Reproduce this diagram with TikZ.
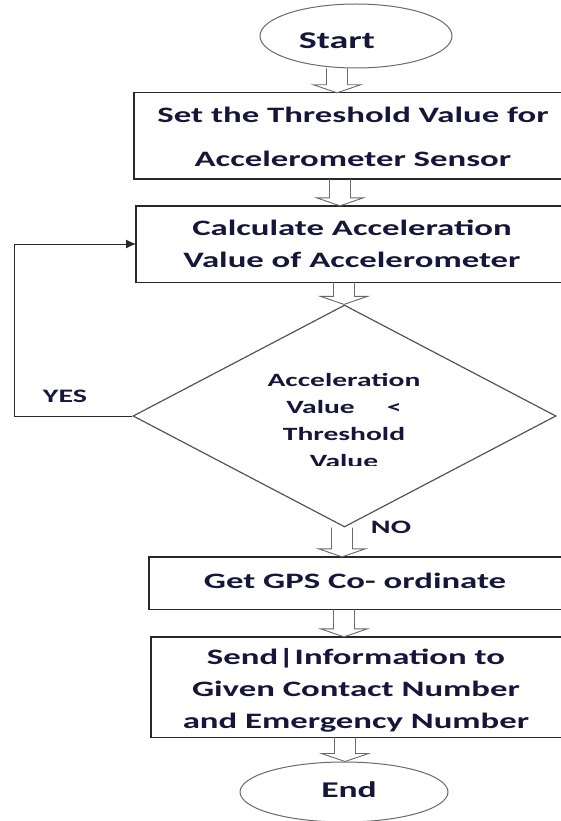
\documentclass[tikz,border=0pt]{standalone}
\usepackage{fontspec}
\usetikzlibrary{shapes.geometric,calc,arrows.meta}
\newfontfamily\flowfont{Carlito}[FakeStretch=1.58]
\definecolor{txtcol}{RGB}{22,22,58}
\definecolor{edgecol}{RGB}{40,40,40}
\definecolor{arrcol}{RGB}{105,105,105}
\begin{document}
\begin{tikzpicture}[x=1pt,y=-1pt,
  box/.style={inner sep=0pt, anchor=west},
  boxline/.style={draw=edgecol, line width=1.4pt, line join=miter},
  term/.style={draw=arrcol, line width=1pt, ellipse, inner sep=0pt},
  decision/.style={draw=arrcol!80!black, line width=1.2pt, diamond, inner sep=0pt},
  label text/.style={text=txtcol, align=center, inner sep=0pt,
    font=\flowfont\bfseries\fontsize{22}{32}\selectfont},
  hollow/.style={draw=arrcol, line width=0.9pt, line join=miter},
  loopline/.style={draw=edgecol, line width=1pt, -{Latex[length=10pt,width=9pt]}}]
\useasboundingbox (0,0) rectangle (560,821);

% open-ended process box: top, left and bottom sides only
\newcommand\openbox[1]{%
  \draw[boxline] (#1.north east) -- (#1.north west) -- (#1.south west) -- (#1.south east);}

% terminals, process boxes and the decision
\node[term, minimum width=192pt, minimum height=64pt] (start) at (356,36) {};
\node[label text, font=\flowfont\bfseries\fontsize{24}{32}\selectfont] at (337,41) {Start};

\node[box, minimum width=428pt, minimum height=86pt] (setT) at (134,136) {};
\openbox{setT}
\node[label text, font=\flowfont\bfseries\fontsize{22}{44}\selectfont] at (353,137)
  {Set the Threshold Value for\\Accelerometer Sensor};

\node[box, minimum width=426pt, minimum height=76pt] (calc) at (136,244) {};
\openbox{calc}
\node[label text] at (352,244) {Calculate Acceleration\\Value of Accelerometer};

\node[decision, minimum width=423pt, minimum height=222pt] (dec) at (344.5,416) {};
\begin{scope}
  \clip (0,0) rectangle (560,465);
  \node[label text, font=\flowfont\bfseries\fontsize{18.7}{27}\selectfont] at (344,420)
    {Acceleration\\Value\quad\ \ {<}\\Threshold\\Value};
\end{scope}

\node[box, minimum width=413pt, minimum height=52pt] (gps) at (149,583) {};
\openbox{gps}
\node[label text] at (355,581) {Get GPS Co- ordinate};

\node[box, minimum width=411pt, minimum height=100pt] (send) at (151,687) {};
\openbox{send}
\node[label text] at (356,690)
  {Send|Information to\\Given Contact Number\\and Emergency Number};

\node[term, minimum width=208pt, minimum height=60pt] (finish) at (344,792) {};
\node[label text, font=\flowfont\bfseries\fontsize{22.5}{32}\selectfont] at (349,790) {End};

% branch labels
\node[label text, font=\flowfont\bfseries\fontsize{19}{20}\selectfont] at (65,396) {YES};
\node[label text, font=\flowfont\bfseries\fontsize{19}{20}\selectfont] at (391,527) {NO};

% columns of the block arrows
\coordinate (c1) at (337,0);
\coordinate (c2) at (340,0);
\coordinate (c3) at (344,0);
\coordinate (c4) at (342,0);
\coordinate (c5) at (344,0);
\coordinate (c6) at (345,0);

% hollow block arrow: #1 column, #2 source node, #3 target node
\newcommand\blockarrow[3]{%
  \draw[hollow] ($(#2.south -| #1)+(-10.5,0)$) -- ($(#3.north -| #1)+(-10.5,-8)$)
    -- ($(#3.north -| #1)+(-23.5,-8)$) -- (#3.north -| #1)
    -- ($(#3.north -| #1)+(23.5,-8)$) -- ($(#3.north -| #1)+(10.5,-8)$)
    -- ($(#2.south -| #1)+(10.5,0)$);}

\blockarrow{c1}{start}{setT}
\blockarrow{c2}{setT}{calc}
\blockarrow{c3}{calc}{dec}
\blockarrow{c4}{dec}{gps}
\blockarrow{c5}{gps}{send}
\blockarrow{c6}{send}{finish}

% YES loop back to the calculation step
\coordinate (loopL) at (14,416);
\draw[loopline] (dec.west) -- (dec.west -| loopL) |- (calc.west);
\end{tikzpicture}
\end{document}
